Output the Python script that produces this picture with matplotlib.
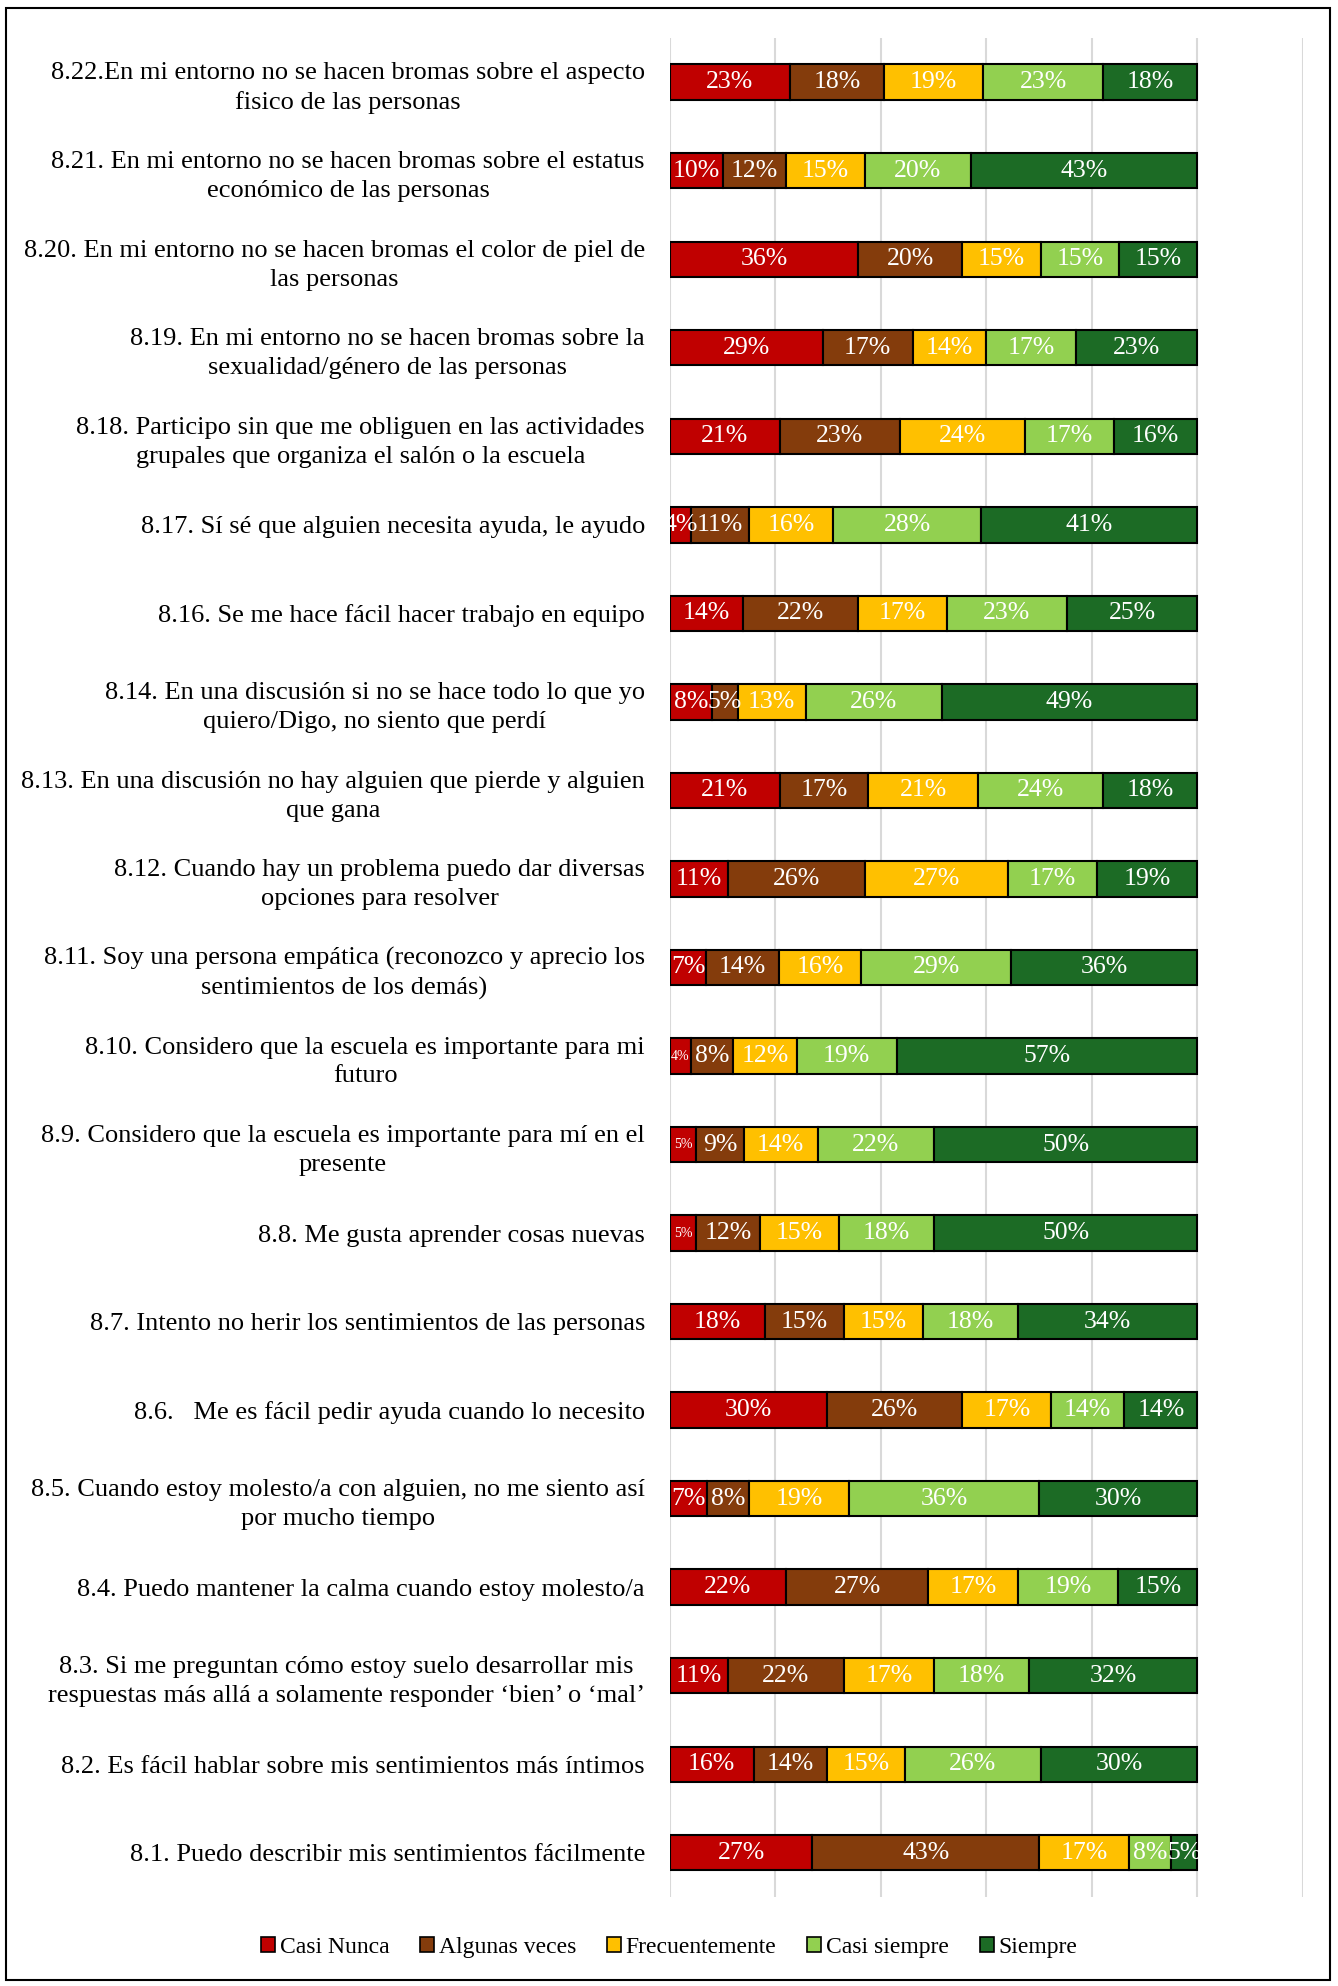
import numpy as np
import matplotlib.pyplot as plt
from matplotlib.patches import Rectangle

plt.rcParams['font.family'] = ['Liberation Serif', 'DejaVu Serif']

# items from top to bottom
items = [
    "8.22.En mi entorno no se hacen bromas sobre el aspecto\nfisico de las personas",
    "8.21. En mi entorno no se hacen bromas sobre el estatus\neconómico de las personas",
    "8.20. En mi entorno no se hacen bromas el color de piel de\nlas personas",
    "8.19. En mi entorno no se hacen bromas sobre la\nsexualidad/género de las personas",
    "8.18. Participo sin que me obliguen en las actividades\ngrupales que organiza el salón o la escuela",
    "8.17. Sí sé que alguien necesita ayuda, le ayudo",
    "8.16. Se me hace fácil hacer trabajo en equipo",
    "8.14. En una discusión si no se hace todo lo que yo\nquiero/Digo, no siento que perdí",
    "8.13. En una discusión no hay alguien que pierde y alguien\nque gana",
    "8.12. Cuando hay un problema puedo dar diversas\nopciones para resolver",
    "8.11. Soy una persona empática (reconozco y aprecio los\nsentimientos de los demás)",
    "8.10. Considero que la escuela es importante para mi\nfuturo",
    "8.9. Considero que la escuela es importante para mí en el\npresente",
    "8.8. Me gusta aprender cosas nuevas",
    "8.7. Intento no herir los sentimientos de las personas",
    "8.6.   Me es fácil pedir ayuda cuando lo necesito",
    "8.5. Cuando estoy molesto/a con alguien, no me siento así\npor mucho tiempo",
    "8.4. Puedo mantener la calma cuando estoy molesto/a",
    "8.3. Si me preguntan cómo estoy suelo desarrollar mis\nrespuestas más allá a solamente responder ‘bien’ o ‘mal’",
    "8.2. Es fácil hablar sobre mis sentimientos más íntimos",
    "8.1. Puedo describir mis sentimientos fácilmente",
]

series = ["Casi Nunca", "Algunas veces", "Frecuentemente", "Casi siempre", "Siempre"]
colors = ["#C00000", "#843C0C", "#FFC000", "#92D050", "#1C6B25"]

casi_nunca = [23, 10, 36, 29, 21, 4, 14, 8, 21, 11, 7, 4, 5, 5, 18, 30, 7, 22, 11, 16, 27]
algunas    = [18, 12, 20, 17, 23, 11, 22, 5, 17, 26, 14, 8, 9, 12, 15, 26, 8, 27, 22, 14, 43]
frecuente  = [19, 15, 15, 14, 24, 16, 17, 13, 21, 27, 16, 12, 14, 15, 15, 17, 19, 17, 17, 15, 17]
casi_siem  = [23, 20, 15, 17, 17, 28, 23, 26, 24, 17, 29, 19, 22, 18, 18, 14, 36, 19, 18, 26, 8]
siempre    = [18, 43, 15, 23, 16, 41, 25, 49, 18, 19, 36, 57, 50, 50, 34, 14, 30, 15, 32, 30, 5]

# labels drawn with a small font in the original (row, series)
small_labels = {(11, 0), (12, 0), (13, 0)}

vals = np.array([casi_nunca, algunas, frecuente, casi_siem, siempre], dtype=float)
shares = vals / vals.sum(axis=0)   # 100% stacked

fig = plt.figure(figsize=(13.38, 19.86), dpi=100)
ax = fig.add_axes([0.5007, 0.0448, 0.4731, 0.9361])

y = np.arange(len(items))
left = np.zeros(len(items))
for i, name in enumerate(series):
    bars = ax.barh(y, shares[i], left=left, height=0.40, color=colors[i],
                   edgecolor="black", linewidth=1.5, label=name, zorder=3)
    for j, b in enumerate(bars):
        fs = 10 if (j, i) in small_labels else 18.5
        ax.text(left[j] + shares[i][j] / 2, y[j], f"{int(vals[i][j])}%",
                ha="center", va="center", color="white", fontsize=fs, zorder=4)
    left += shares[i]

ax.set_xlim(0, 1.2)
ax.set_ylim(len(items) - 0.5, -0.5)
ax.set_xticks(np.arange(0, 1.21, 0.2))
ax.set_xticklabels([])
ax.grid(axis="x", color="#D9D9D9", linewidth=1.5, zorder=0)
ax.tick_params(length=0)
for s in ax.spines.values():
    s.set_visible(False)

ax.set_yticks(y)
ax.set_yticklabels(items, fontsize=19, multialignment="center", linespacing=1.4)
ax.tick_params(axis="y", pad=18)

leg = fig.legend(loc="center", bbox_to_anchor=(0.5, 0.0195), ncol=5, frameon=False,
                 fontsize=17, handlelength=0.6, handleheight=0.6, handletextpad=0.2,
                 columnspacing=1.3)
for h in leg.legend_handles:
    h.set_linewidth(1.2)

# outer frame
fig.patches.append(Rectangle((0.0045, 0.003), 0.9895, 0.993, transform=fig.transFigure,
                             fill=False, edgecolor="black", linewidth=1.5))

fig.savefig("out.png", dpi=100)
